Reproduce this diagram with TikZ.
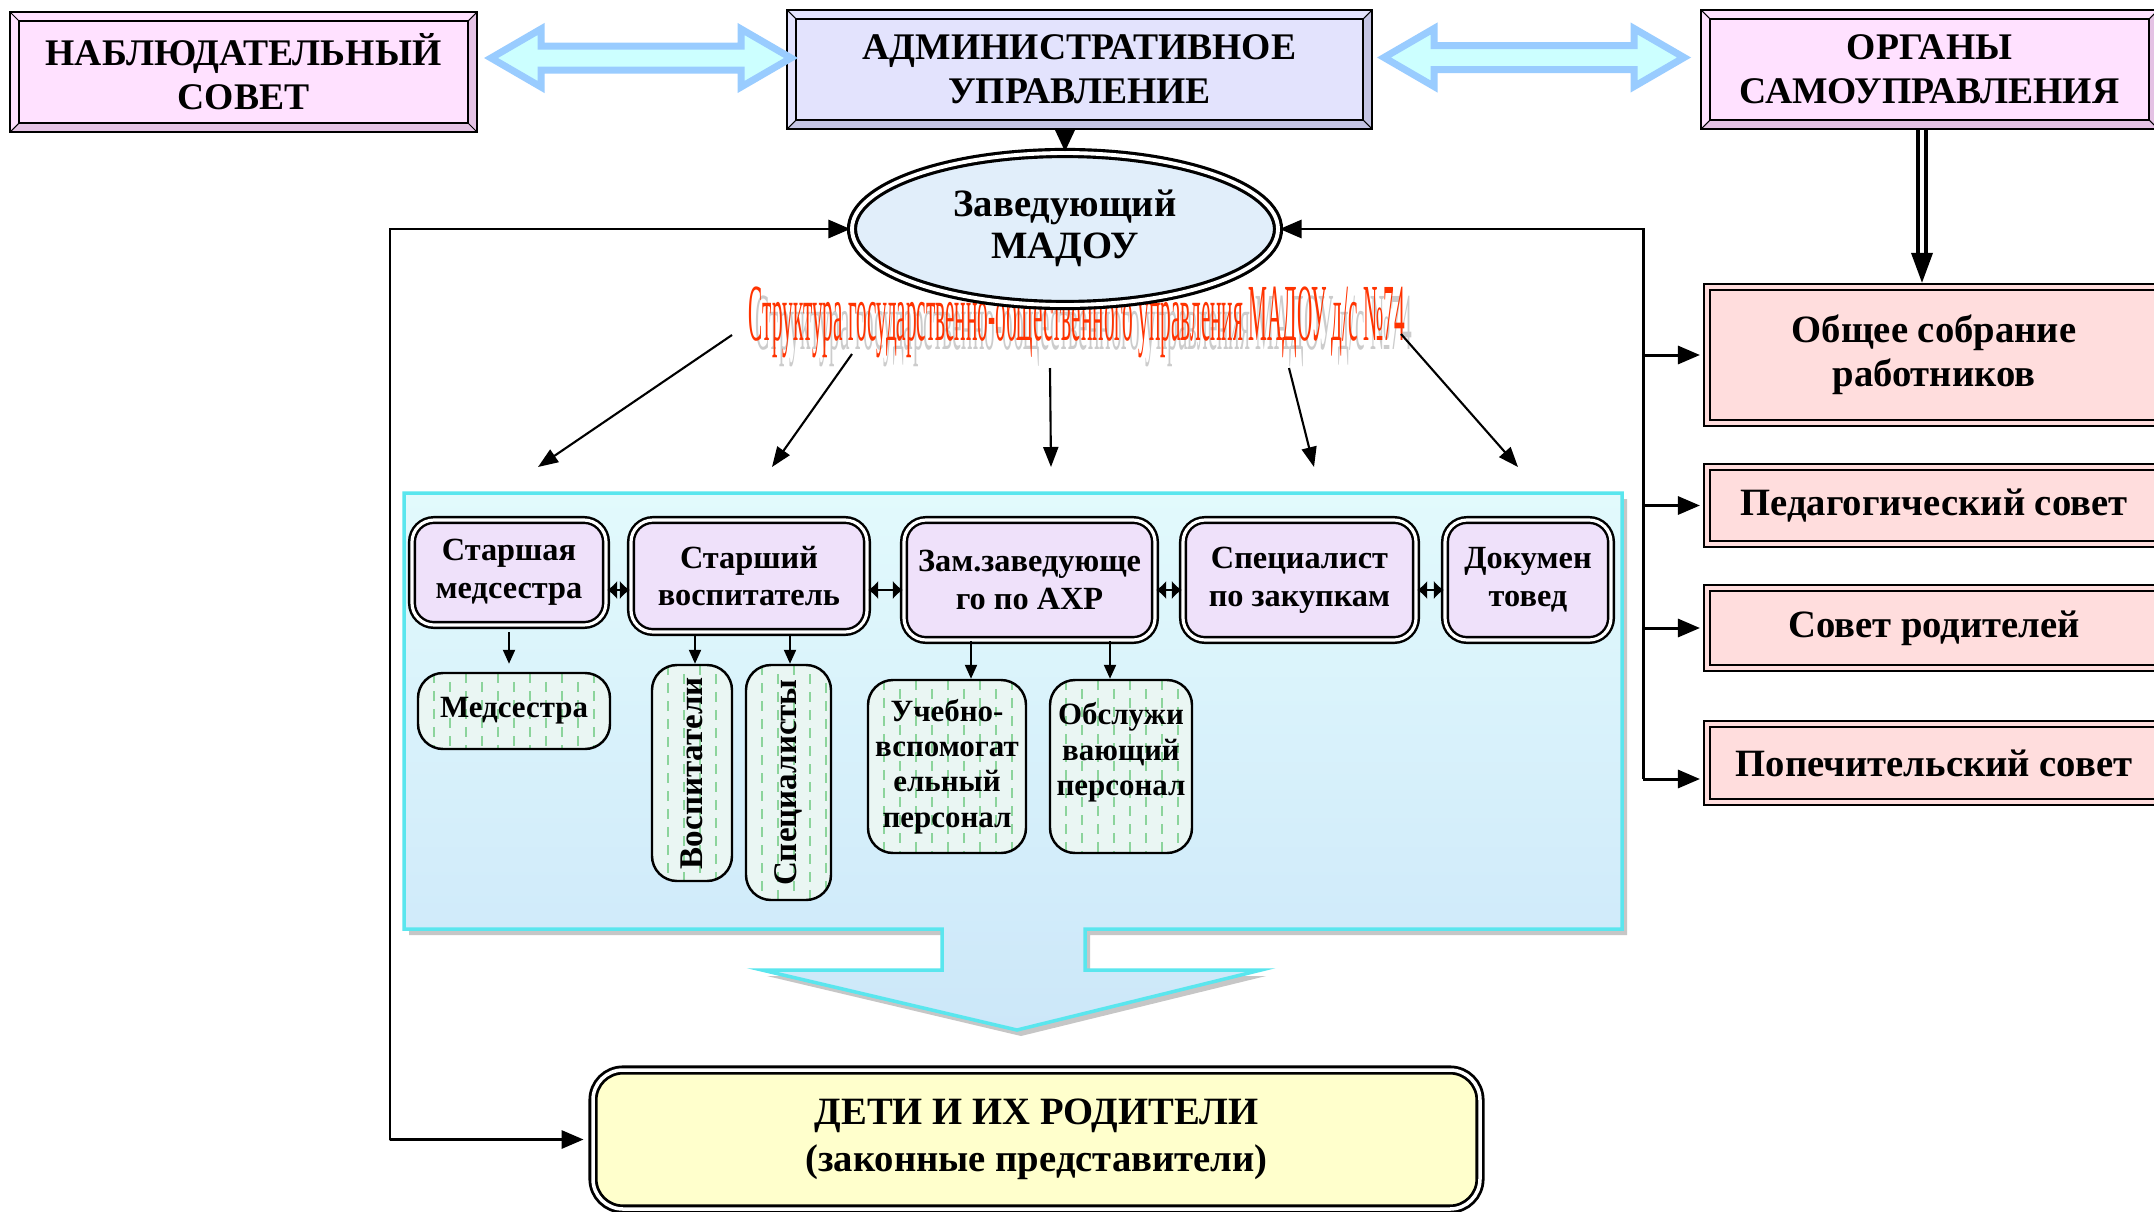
\documentclass[tikz,border=0pt]{standalone}
\usepackage{fontspec}
\setmainfont{Liberation Serif}
\usepackage{graphicx}
\usetikzlibrary{arrows.meta,shapes.geometric}

\definecolor{nabfill}{HTML}{FFE1FF}
\definecolor{nabdark}{HTML}{E4C2E4}
\definecolor{admfill}{HTML}{E3E3FD}
\definecolor{admdark}{HTML}{C4C4E4}
\definecolor{zavfill}{HTML}{E1EEFA}
\definecolor{postfill}{HTML}{EFE1FA}
\definecolor{stafffill}{HTML}{EAF6F3}
\definecolor{staffdash}{HTML}{8CD49C}
\definecolor{councilfill}{HTML}{FFDDDD}
\definecolor{detifill}{HTML}{FFFFCC}
\definecolor{paneltop}{HTML}{E2FAFC}
\definecolor{panelbot}{HTML}{CCE7F9}
\definecolor{paneledge}{HTML}{5AE6EE}
\definecolor{arrowfill}{HTML}{CCFFFF}
\definecolor{arrowedge}{HTML}{99CCFF}
\definecolor{titlered}{HTML}{FF3300}

\newcommand{\titletext}{Структура государственно-общественного управления МАДОУ д/с №74}

\begin{document}
\begin{tikzpicture}[x=0.1mm,y=-0.1mm,>={Triangle[length=2.2mm,width=1.8mm]},
    top box/.style 2 args={draw,line width=0.6pt,fill=#2,inner sep=0pt,align=center,
      font=\bfseries\fontsize{10.7}{12.5}\selectfont,
      path picture={
        \path (path picture bounding box.north west) coordinate (nw)
              (path picture bounding box.north east) coordinate (ne)
              (path picture bounding box.south west) coordinate (sw)
              (path picture bounding box.south east) coordinate (se);
        \fill[#1] (nw) -- (ne) -- ([shift={(-0.9mm,-0.9mm)}]ne) -- ([shift={(0.9mm,-0.9mm)}]nw)
          -- ([shift={(0.9mm,0.9mm)}]sw) -- (sw) -- cycle;
        \draw[line width=0.5pt,fill=#1] ([shift={(0.9mm,-0.9mm)}]nw) rectangle ([shift={(-0.9mm,0.9mm)}]se);
        \draw[line width=0.3pt] (nw) -- ([shift={(0.9mm,-0.9mm)}]nw) (ne) -- ([shift={(-0.9mm,-0.9mm)}]ne)
          (sw) -- ([shift={(0.9mm,0.9mm)}]sw) (se) -- ([shift={(-0.9mm,0.9mm)}]se);
      }},
    head node/.style={ellipse,draw,double=white,double distance=1.1pt,line width=0.9pt,
      fill=zavfill,inner sep=0pt,align=center,font=\bfseries\fontsize{11}{12}\selectfont},
    post box/.style={rectangle,rounded corners=2.2mm,draw,double=white,double distance=0.9pt,
      line width=0.7pt,fill=postfill,inner sep=0pt,align=center,
      font=\bfseries\fontsize{9.2}{10.8}\selectfont},
    staff box/.style={draw,line width=0.7pt,rounded corners=2.5mm,fill=stafffill,inner sep=0pt,
      align=center,font=\bfseries\fontsize{8.8}{10}\selectfont,
      path picture={
        \foreach \k in {1,3,...,15}
          \draw[staffdash,line width=0.25mm,dash pattern=on 1mm off 0.8mm]
            ([xshift=\k*1.6mm]path picture bounding box.north west)
            -- ([xshift=\k*1.6mm]path picture bounding box.south west);
        \foreach \k in {2,4,...,16}
          \draw[staffdash,line width=0.25mm,dash pattern=on 1mm off 0.8mm,dash phase=0.9mm]
            ([xshift=\k*1.6mm]path picture bounding box.north west)
            -- ([xshift=\k*1.6mm]path picture bounding box.south west);
      }},
    council box/.style={rectangle,draw,double=councilfill,double distance=1.2pt,line width=0.6pt,
      fill=councilfill,inner sep=0pt,align=center,minimum width=45.4mm,
      font=\bfseries\fontsize{11}{12.5}\selectfont},
    base box/.style={rectangle,rounded corners=3mm,draw,double=white,double distance=1pt,
      line width=0.8pt,fill=detifill,inner sep=0pt,align=center,
      font=\bfseries\fontsize{11}{13.4}\selectfont},
    block arrow/.style={draw=arrowedge,fill=arrowfill,line width=0.7mm,line join=miter},
    link/.style={line width=0.85pt},
    ray/.style={line width=0.6pt,-{Triangle[length=2mm,width=1.5mm]}},
    drop/.style={line width=0.6pt,-{Triangle[length=1.4mm,width=1.2mm]}},
    twin/.style={line width=0.6pt,{Latex[length=1mm,width=1.9mm]}-{Latex[length=1mm,width=1.9mm]}}]

  \path[use as bounding box,fill=white] (0,0) rectangle (2154,1211);

  % panel with the big arrow
  \fill[gray!45] (409,499) -- (1627,499) -- (1627,935) -- (1090,935) -- (1090,976) -- (1266,976)
    -- (1021,1036) -- (767,976) -- (947,976) -- (947,935) -- (409,935) -- cycle;
  \path[draw=paneledge,line width=0.35mm,top color=paneltop,bottom color=panelbot]
    (404,493) -- (1622,493) -- (1622,929) -- (1085,929) -- (1085,970) -- (1261,970)
    -- (1017,1030) -- (762,970) -- (942,970) -- (942,929) -- (404,929) -- cycle;

  % title
  \node[anchor=base west,text=gray!40,inner sep=0pt] (titleshadow) at (755,349)
    {\resizebox{65.6mm}{5.8mm}{\titletext}};
  \node[anchor=base west,text=titlered,inner sep=0pt] (title) at (748,340)
    {\resizebox{65.6mm}{5.8mm}{\titletext}};

  % top row
  \node[top box={nabfill}{nabdark},minimum width=46.7mm,minimum height=12mm] (nab) at (243.5,72)
    {НАБЛЮДАТЕЛЬНЫЙ\\СОВЕТ};
  \node[top box={admfill}{admdark},minimum width=58.5mm,minimum height=11.9mm] (adm) at (1079.5,69.5)
    {АДМИНИСТРАТИВНОЕ\\УПРАВЛЕНИЕ};
  \node[top box={nabfill}{nabdark},minimum width=45.7mm,minimum height=11.9mm] (org) at (1929.5,69.5)
    {ОРГАНЫ\\САМОУПРАВЛЕНИЯ};
  \node[head node,minimum width=42.6mm,minimum height=15.2mm] (zav) at (1065,229)
    {\raisebox{-1.1mm}{\begin{tabular}{@{}c@{}}Заведующий\\МАДОУ\end{tabular}}};

  \draw[block arrow] ([shift={(1.3mm,1.4mm)}]nab.east) -- ++(5mm,2.9mm) -- ++(0,-1.7mm)
    -- ++(20mm,0) -- ++(0,1.7mm) -- ++(5mm,-2.9mm) -- ++(-5mm,-2.9mm) -- ++(0,1.7mm)
    -- ++(-20mm,0) -- ++(0,-1.7mm) -- cycle;
  \draw[block arrow] ([shift={(1.1mm,1.2mm)}]adm.east) -- ++(5mm,2.9mm) -- ++(0,-1.7mm)
    -- ++(20mm,0) -- ++(0,1.7mm) -- ++(5mm,-2.9mm) -- ++(-5mm,-2.9mm) -- ++(0,1.7mm)
    -- ++(-20mm,0) -- ++(0,-1.7mm) -- cycle;
  \draw[line width=0.6pt,-{Triangle[length=2.2mm,width=2mm]}] (adm.south -| zav.north) -- (zav.north);

  % posts inside the panel
  \node[post box,minimum width=19.4mm,minimum height=10.5mm] (b1) at (509,572.5) {Старшая\\медсестра};
  \node[post box,minimum width=23.6mm,minimum height=11.2mm] (b2) at (749,576) {Старший\\воспитатель};
  \node[post box,minimum width=25.1mm,minimum height=12mm] (b3) at (1029.5,580) {Зам.заведующе\\го по АХР};
  \node[post box,minimum width=23.3mm,minimum height=12mm] (b4) at (1299.5,580) {Специалист\\по закупкам};
  \node[post box,minimum width=16.6mm,minimum height=12mm] (b5) at (1528,580) {Докумен\\товед};

  \coordinate (lvl) at (0,590);
  \foreach \a/\b in {b1/b2,b2/b3,b3/b4,b4/b5}
    \draw[twin] (\a.east |- lvl) -- (\b.west |- lvl);

  \node[staff box,minimum width=19.2mm,minimum height=7.6mm] (l1) at (514,711) {Медсестра};
  \node[staff box,minimum width=8mm,minimum height=21.6mm,font=\bfseries\fontsize{9.4}{10}\selectfont]
    (l2) at (692,773) {\rotatebox{90}{Воспитатели}};
  \node[staff box,minimum width=8.5mm,minimum height=23.5mm,font=\bfseries\fontsize{9.4}{10}\selectfont]
    (l3) at (788.5,782.5) {\rotatebox{90}{Специалисты}};
  \node[staff box,minimum width=15.8mm,minimum height=17.3mm] (l4) at (947,766.5)
    {Учебно-\\вспомогат\\ельный\\персонал};
  \node[staff box,minimum width=14.2mm,minimum height=17.3mm] (l5) at (1121,766.5)
    {Обслужи\\вающий\\персонал\\~};

  \draw[drop,shorten <=0.6mm,shorten >=0.8mm] (b1.south) -- (b1.south |- l1.north);
  \draw[drop,shorten <=0.3mm] ([xshift=-5.4mm]b2.south) -- ([xshift=-5.4mm]b2.south |- l2.north);
  \draw[drop,shorten <=0.3mm] ([xshift=4.1mm]b2.south) -- ([xshift=4.1mm]b2.south |- l3.north);
  \draw[drop] ([xshift=-5.85mm]b3.south) -- ([xshift=-5.85mm]b3.south |- l4.north);
  \draw[drop] ([xshift=8.05mm]b3.south) -- ([xshift=8.05mm]b3.south |- l5.north);

  % arrows from the title
  \foreach \i/\sx/\sy/\ex/\ey in {1/732/335/538/467,2/852/354/772/467,3/1050/368/1051/467,
                                  4/1289/368/1314/467,5/1401/334/1518/467}{
    \coordinate (ts\i) at (\sx,\sy);
    \coordinate (te\i) at (\ex,\ey);
    \draw[ray] (ts\i) -- (te\i);
  }

  % self-government bodies
  \node[council box,minimum height=13.6mm] (r1) at (1934,355) {Общее собрание\\работников};
  \node[council box,minimum height=7.7mm] (r2) at (1934,505.5) {Педагогический совет};
  \node[council box,minimum height=8mm] (r3) at (1934,628) {Совет родителей};
  \node[council box,minimum height=7.8mm] (r4) at (1934,763) {Попечительский совет};

  \draw[double,double distance=0.45mm,line width=0.35mm,shorten >=2.8mm]
    ([xshift=-0.75mm]org.south) -- ([xshift=-0.75mm]org.south |- r1.north);
  \draw[line width=0.35mm,-{Triangle[length=3mm,width=2.1mm]}]
    ([xshift=-0.75mm,yshift=3.2mm]org.south |- r1.north) -- ([xshift=-0.75mm,yshift=0.3mm]org.south |- r1.north);

  \coordinate (bus) at (1643,779);
  \draw[link,->] (bus) |- (zav.east);
  \foreach \r in {r1,r2,r3}
    \draw[link,->,shorten >=0.6mm] (bus |- \r.west) -- (\r.west);
  \draw[link,->,shorten >=0.6mm] (bus) -- (bus -| r4.west);

  % children and parents
  \node[base box,minimum width=88.7mm,minimum height=13.9mm] (deti) at (1036.5,1139.5)
    {ДЕТИ И ИХ РОДИТЕЛИ\\(законные представители)};
  \coordinate (lft) at (390,1140);
  \draw[link,<->,shorten >=0.8mm] (zav.west) -| (lft) |- (deti.west);
\end{tikzpicture}
\end{document}
